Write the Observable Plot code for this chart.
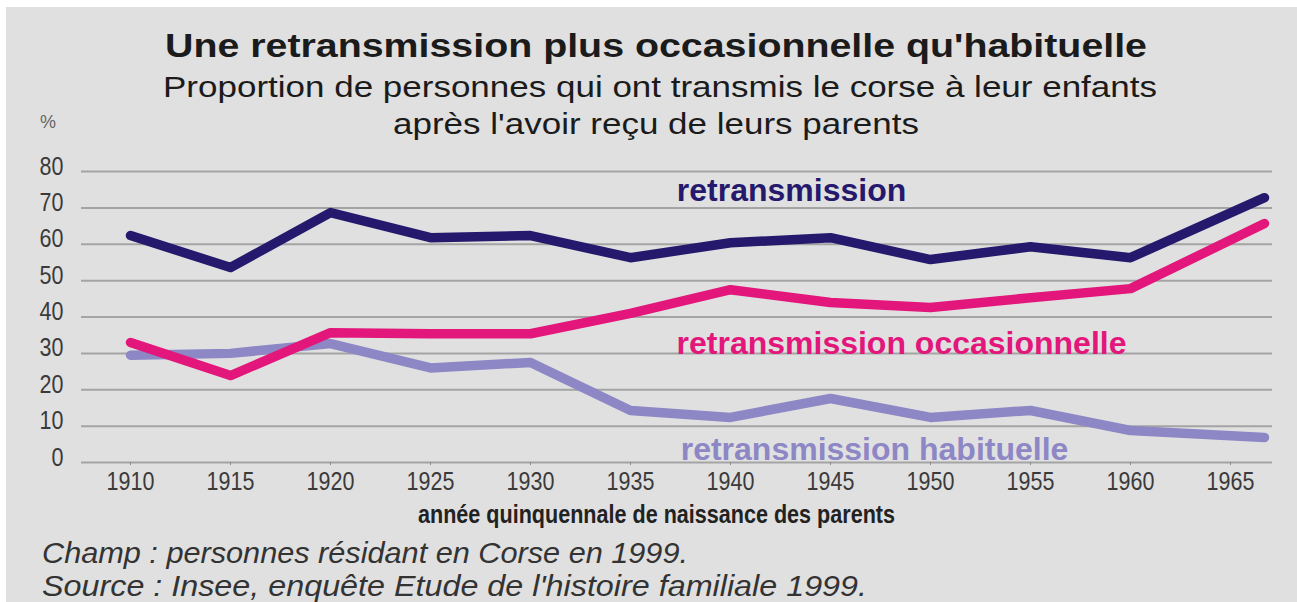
<!DOCTYPE html>
<html><head><meta charset="utf-8">
<script src="https://cdn.jsdelivr.net/npm/d3@7"></script>
<script src="https://cdn.jsdelivr.net/npm/@observablehq/plot@0.6"></script>
<style>
html,body{margin:0;padding:0;background:#fff;}
body{width:1297px;height:602px;overflow:hidden;position:relative;font-family:"Liberation Sans",Arial,Helvetica,sans-serif;}
#panel{position:absolute;left:6px;top:7px;width:1291px;height:595px;background:#e0e0e0;}
.t{position:absolute;white-space:nowrap;line-height:1;color:#1b1b1b;transform-origin:0 0;}
#chart{position:absolute;left:0;top:150px;}
</style></head><body>
<div id="panel"></div>
<div id="title" class="t" style="font-size:33px;font-weight:bold;">Une retransmission plus occasionnelle qu'habituelle</div>
<div id="sub1" class="t" style="font-size:30px;">Proportion de personnes qui ont transmis le corse à leur enfants</div>
<div id="sub2" class="t" style="font-size:30px;">après l'avoir reçu de leurs parents</div>
<div id="pct" class="t" style="font-size:18px;color:#666;">%</div>
<div id="chart"></div>
<div id="xlab" class="t" style="font-size:26px;font-weight:bold;color:#222;">année quinquennale de naissance des parents</div>
<div id="foot1" class="t" style="font-size:30px;font-style:italic;color:#333;">Champ : personnes résidant en Corse en 1999.</div>
<div id="foot2" class="t" style="font-size:30px;font-style:italic;color:#333;">Source : Insee, enquête Etude de l'histoire familiale 1999.</div>
<script>
// ---- data ----
const years = [1910, 1915, 1920, 1925, 1930, 1935, 1940, 1945, 1950, 1955, 1960, 1966.7];
const retransmission = [62.4, 53.6, 68.7, 61.8, 62.4, 56.3, 60.4, 61.8, 55.8, 59.3, 56.3, 72.8];
const occasionnelle  = [33.0, 23.9, 35.7, 35.4, 35.4, 41.0, 47.5, 44.0, 42.6, 45.3, 47.8, 65.7];
const habituelle     = [29.5, 30.0, 32.7, 26.0, 27.5, 14.3, 12.4, 17.6, 12.4, 14.3, 8.8, 6.9];
const seriesNames = ["retransmission", "retransmission occasionnelle", "retransmission habituelle"];
const seriesColors = ["#24196c", "#e2167b", "#8d87c5"];
const yTicks = [0, 10, 20, 30, 40, 50, 60, 70, 80];
const xTicks = [1910, 1915, 1920, 1925, 1930, 1935, 1940, 1945, 1950, 1955, 1960, 1965];

const seriesValues = [retransmission, occasionnelle, habituelle];
const rows = seriesNames.flatMap((s, k) => years.map((year, i) => ({year, value: seriesValues[k][i], series: s})));
const labels = [
  {series: seriesNames[0], year: 1943.05, value: 74.6},
  {series: seriesNames[1], year: 1948.55, value: 32.7},
  {series: seriesNames[2], year: 1947.2, value: 3.6}
];
const labelWidths = [228, 452, 387];

const drawOrder = [2, 1, 0];
const lineMarks = drawOrder.flatMap(k => {
  const d = rows.filter(r => r.series === seriesNames[k]);
  return [
    Plot.line(d, {x: "year", y: "value", stroke: "#3c3c3c", strokeOpacity: 0.5, strokeWidth: 9.5,
      dx: 2, dy: 3, strokeLinecap: "round", strokeLinejoin: "round", ariaLabel: "shadow"}),
    Plot.line(d, {x: "year", y: "value", stroke: "series", strokeWidth: 9.5,
      strokeLinecap: "round", strokeLinejoin: "round"})
  ];
});

const chart = Plot.plot({
  width: 1297, height: 380,
  marginLeft: 80, marginRight: 17, marginTop: 21, marginBottom: 68,
  style: {background: "transparent", fontFamily: '"Liberation Sans",Arial,sans-serif', overflow: "visible"},
  x: {domain: [1907.5, 1967.5]},
  y: {domain: [0, 80]},
  color: {domain: seriesNames, range: seriesColors},
  marks: [
    Plot.ruleY(yTicks, {x1: 1907.55, x2: 1967.1, stroke: "#a4a4a4", strokeWidth: 2}),
    Plot.axisY(yTicks, {tickSize: 0, tickPadding: 17, fontSize: 25, dy: -5, color: "#3a3a3a", label: null}),
    Plot.axisX(xTicks, {tickSize: 3, tickPadding: 7, fontSize: 25, color: "#3a3a3a", label: null, tickFormat: d => String(d)}),
    ...lineMarks,
    Plot.text(labels, {x: "year", y: "value", text: "series", fill: "series", fontSize: 32, fontWeight: "bold", ariaLabel: "serieslabel"})
  ]
});
document.getElementById("chart").appendChild(chart);

const svg = d3.select(chart);
svg.selectAll('g[aria-label="shadow"]').style("filter", "blur(1.3px)");
svg.selectAll('g[aria-label="x-axis tick"]').attr("stroke", "#8a8a8a");
svg.selectAll('g[aria-label="y-axis tick label"] text, g[aria-label="x-axis tick label"] text').each(function() {
  const w = this.getComputedTextLength();
  this.setAttribute("textLength", (w * 0.86).toFixed(1));
  this.setAttribute("lengthAdjust", "spacingAndGlyphs");
});
svg.selectAll('g[aria-label="serieslabel"] text').each(function(_, i) {
  this.setAttribute("textLength", labelWidths[i]);
  this.setAttribute("lengthAdjust", "spacingAndGlyphs");
});

// ---- header / footer text placement ----
function place(id, left, baseline, width) {
  const el = document.getElementById(id);
  const fs = parseFloat(el.style.fontSize);
  const nat = el.getBoundingClientRect().width;
  const s = width ? width / nat : 1;
  el.style.top = (baseline - 0.8465 * fs) + "px";
  el.style.left = left + "px";
  el.style.transform = `scaleX(${s})`;
  return {nat, s};
}
function placeCentered(id, center, baseline, scale) {
  const el = document.getElementById(id);
  const fs = parseFloat(el.style.fontSize);
  const nat = el.getBoundingClientRect().width;
  el.style.top = (baseline - 0.8465 * fs) + "px";
  el.style.left = (center - nat * scale / 2) + "px";
  el.style.transform = `scaleX(${scale})`;
}
place("title", 165, 57, 982);
const s1 = place("sub1", 163, 97, 994).s;
placeCentered("sub2", 656, 134, s1);
place("pct", 40, 128);
place("xlab", 418, 523, 477);
place("foot1", 42, 563, 646);
place("foot2", 42, 596, 825);
</script>
</body></html>
